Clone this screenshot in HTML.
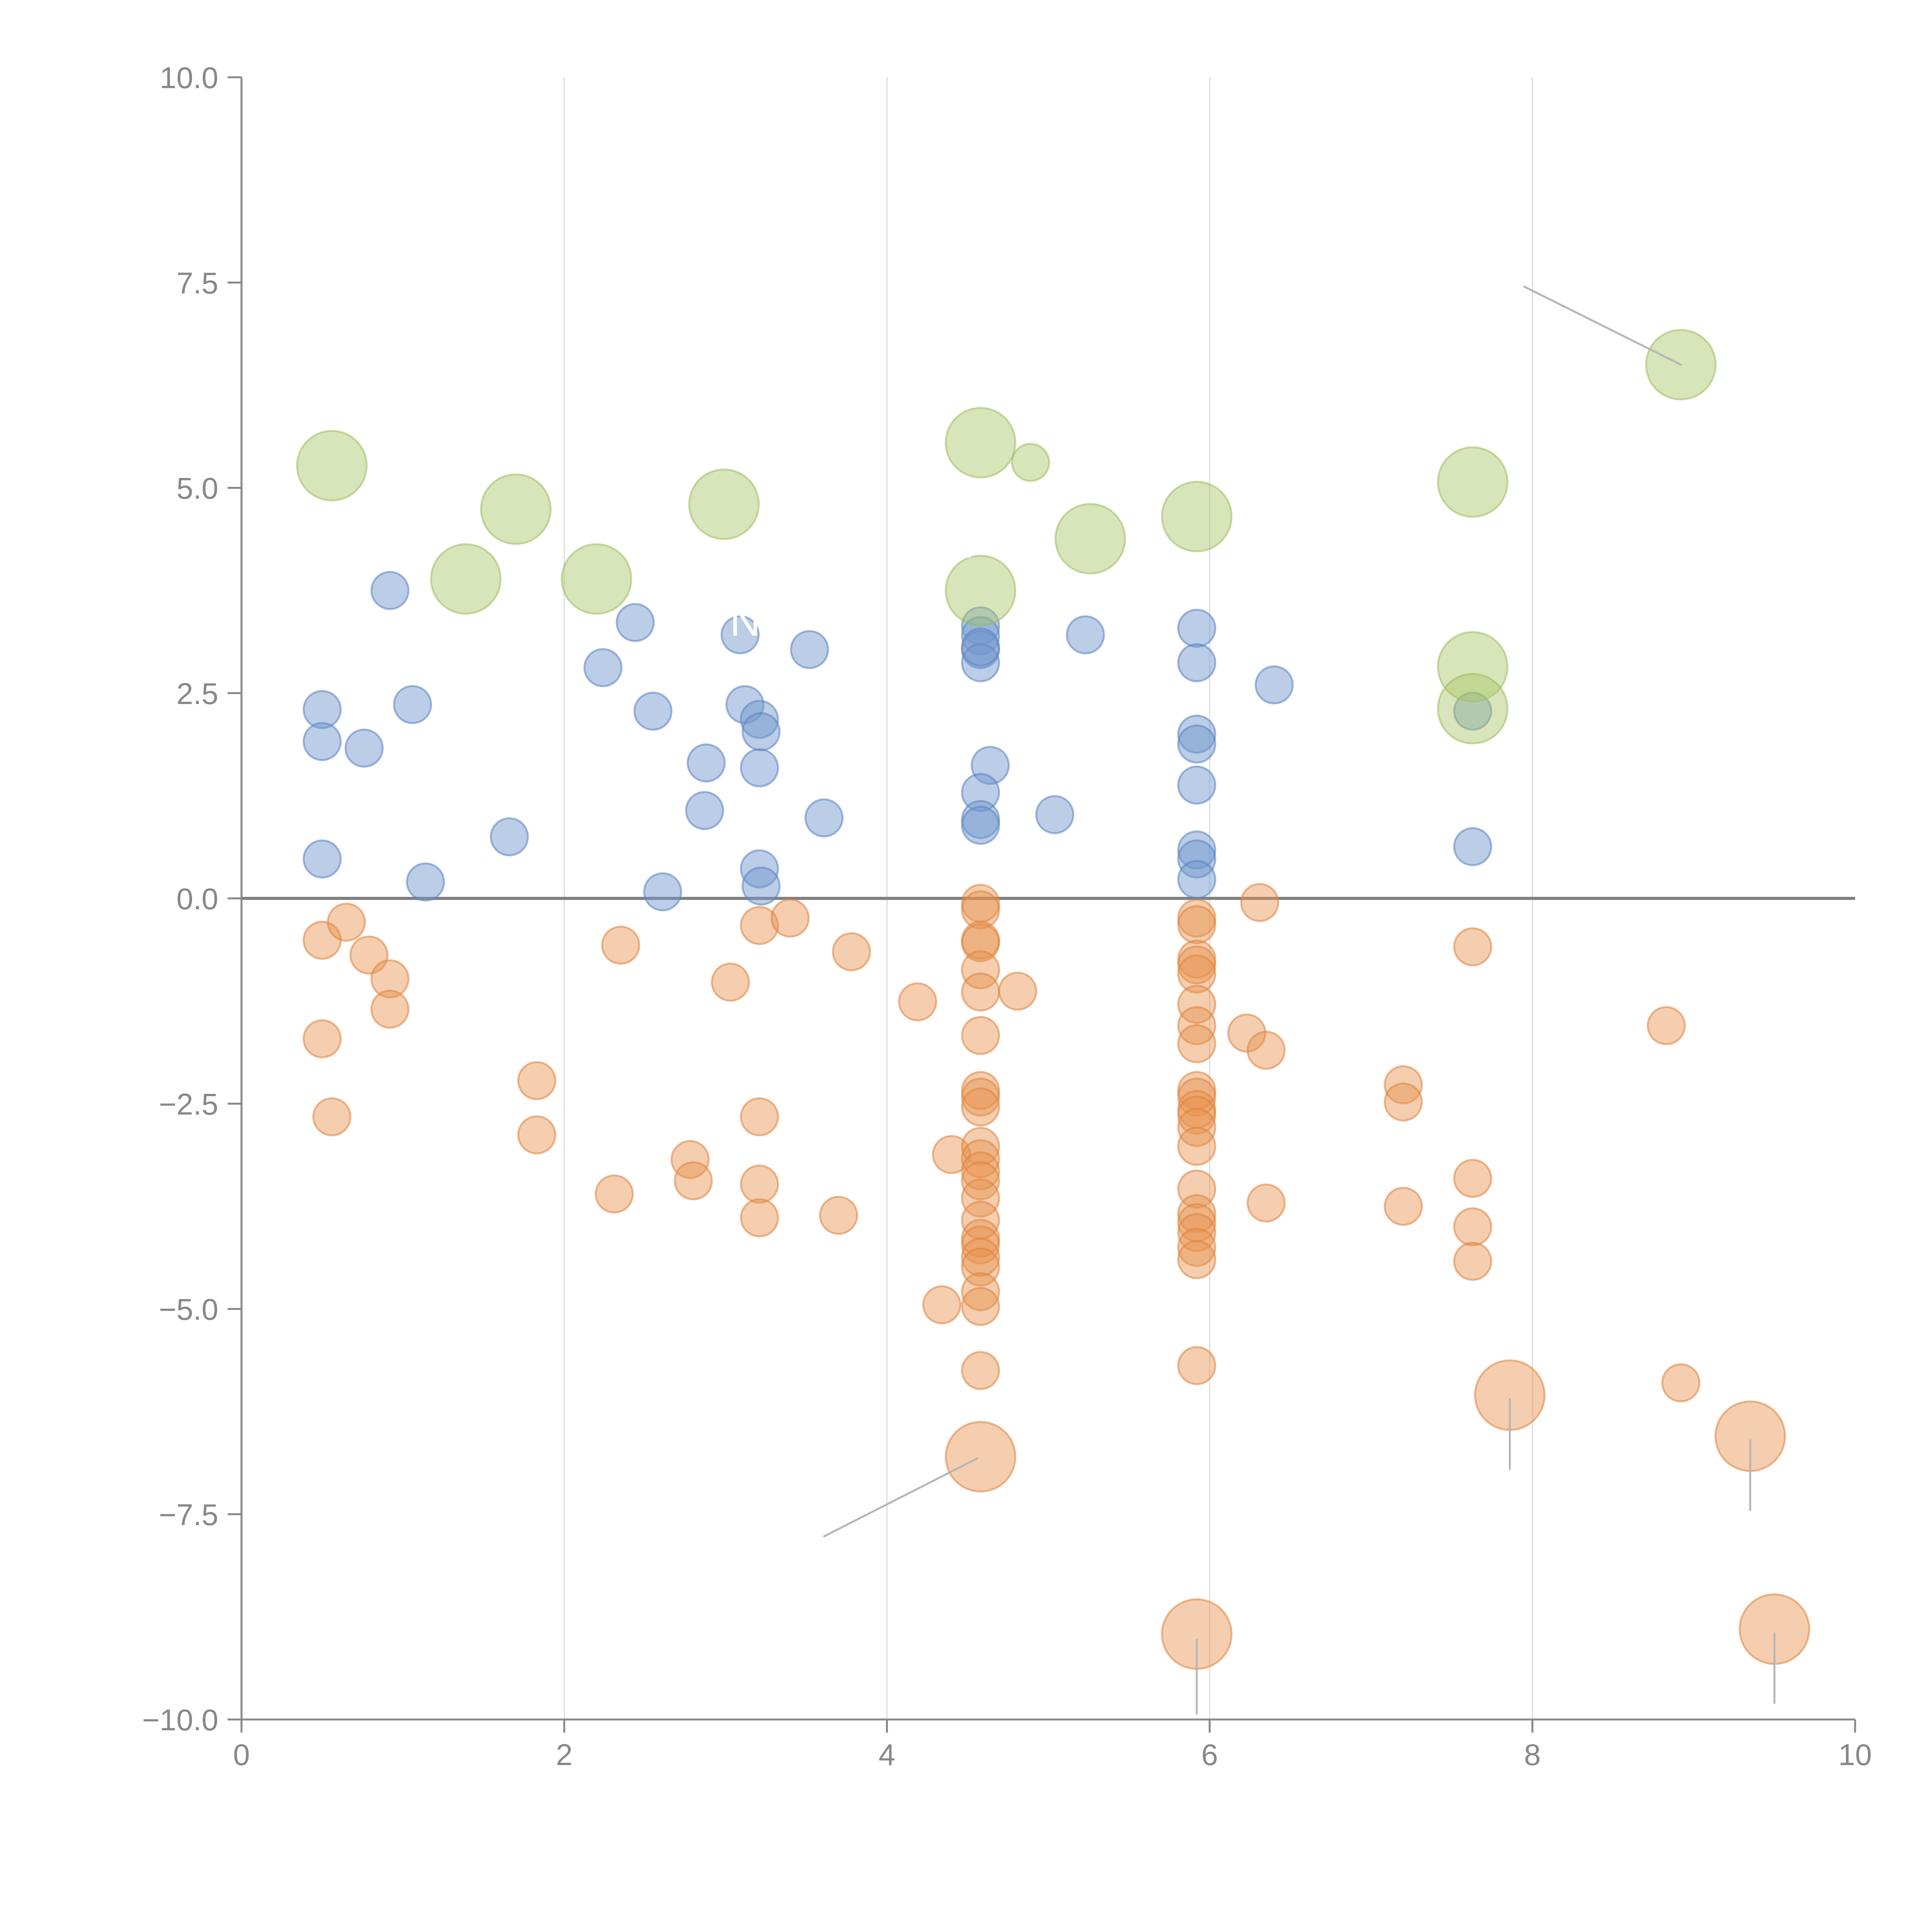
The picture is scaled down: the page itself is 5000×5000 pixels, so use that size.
<!DOCTYPE html>
<html><head><meta charset="utf-8"><style>html,body{margin:0;padding:0;background:#fff}svg{display:block}</style></head>
<body>
<svg id="chart" xmlns="http://www.w3.org/2000/svg" width="5000" height="5000" viewBox="0 0 5000 5000" font-family="'Liberation Sans', sans-serif">
<rect width="5000" height="5000" fill="#fff"/>
<g id="grid"></g>
<g id="axes"></g>
<g id="marks"></g>
<g id="notes"></g>
</svg>
<script>
const xTicks = [0, 2, 4, 6, 8, 10];
const xTickLabels = ["0", "2", "4", "6", "8", "10"];
const yTicks = [10, 7.5, 5, 2.5, 0, -2.5, -5, -7.5, -10];
const yTickLabels = ["10.0", "7.5", "5.0", "2.5", "0.0", "\u22122.5", "\u22125.0", "\u22127.5", "\u221210.0"];

const greenX = [0.56,1.70,1.39,2.20,2.99,4.58,4.89,4.58,5.26,5.92,7.63,7.63,7.63,8.92];
const greenY = [5.27,4.74,3.89,3.89,4.80,5.55,5.31,3.75,4.38,4.65,5.07,2.82,2.31,6.50];
const greenS = [2,2,2,2,2,2,1,2,2,2,2,2,2,2];

const blueX = [0.92,0.50,0.50,0.76,1.06,0.50,1.14,1.66,2.24,2.44,2.55,2.88,2.87,2.61,3.09,3.12,3.21,3.22,3.21,3.21,3.22,3.52,3.61,4.58,4.58,4.58,4.58,4.58,4.64,4.58,4.58,4.58,5.04,5.23,5.92,5.92,5.92,5.92,5.92,5.92,5.92,5.92,6.40,7.63,7.63];
const blueY = [3.75,2.30,1.91,1.83,2.36,0.48,0.20,0.75,2.81,3.36,2.28,1.65,1.07,0.08,3.21,2.36,2.18,2.03,1.59,0.36,0.15,3.03,0.98,3.32,3.20,3.03,2.87,3.06,1.62,1.29,0.96,0.89,1.02,3.21,3.29,2.87,2.00,1.88,1.38,0.59,0.48,0.23,2.60,2.28,0.63];

const orangeX = [0.50,0.65,0.79,0.92,0.92,0.50,0.56,1.83,1.83,2.35,2.31,2.78,2.80,3.03,3.21,3.40,3.21,3.21,3.21,3.70,3.78,4.19,4.40,4.34,4.81,
 4.58,4.58,4.58,4.58,4.58,4.58,4.58,4.58,4.58,4.58,4.58,4.58,4.58,4.58,4.58,4.58,4.58,4.58,4.58,4.58,4.58,4.58,4.58,4.58,
 5.92,5.92,5.92,5.92,5.92,5.92,5.92,5.92,5.92,5.92,5.92,5.92,5.92,5.92,5.92,5.92,5.92,5.92,5.92,5.92,5.92,5.92,
 6.31,6.23,6.35,6.35,7.20,7.20,7.20,7.63,7.63,7.63,7.63,8.83,8.92,7.86,9.35,9.50];
const orangeY = [-0.51,-0.29,-0.69,-0.98,-1.35,-1.71,-2.66,-2.22,-2.88,-0.57,-3.60,-3.18,-3.44,-1.02,-0.33,-0.24,-2.66,-3.48,-3.89,-3.86,-0.65,-1.26,-3.12,-4.95,-1.13,
 -0.06,-0.14,-0.51,-0.54,-0.87,-1.14,-1.67,-2.34,-2.42,-2.54,-3.02,-3.17,-3.32,-3.44,-3.65,-3.92,-4.14,-4.22,-4.37,-4.49,-4.79,-4.97,-5.75,-6.80,
 -0.24,-0.32,-0.74,-0.81,-0.92,-1.29,-1.55,-1.77,-2.34,-2.42,-2.57,-2.64,-2.79,-3.02,-3.54,-3.84,-3.95,-4.07,-4.25,-4.40,-5.69,-8.96,
 -0.05,-1.64,-1.85,-3.71,-2.27,-2.48,-3.75,-0.59,-3.41,-4.00,-4.42,-1.55,-5.90,-6.05,-6.55,-8.90];
const orangeS = orangeX.map((_, i) => 1);
[48, 70, 84, 85, 86].forEach(i => orangeS[i] = 2);

const leaderX1 = [4.56,5.92,7.86,9.35,9.50,8.92];
const leaderY1 = [-6.82,-9.03,-6.10,-6.60,-8.95,6.50];
const leaderX2 = [3.61,5.92,7.86,9.35,9.50,7.95];
const leaderY2 = [-7.77,-9.93,-6.95,-7.45,-9.80,7.45];

const labelText = ["DIG", "N N", "X G"];
const labelX = [1.22, 2.99, 4.58];
const labelY = [4.45, 3.20, 4.15];

const X0 = 625, X1 = 4801, Y0 = 200, Y1 = 4450;
const sx = v => X0 + (v - 0) / 10 * (X1 - X0);
const sy = v => Y0 + (10 - v) / 20 * (Y1 - Y0);
const radius = s => s === 2 ? 90 : (s === 1 ? 48 : 45);
const NS = "http://www.w3.org/2000/svg";
function mk(tag, attrs, parent) {
  const el = document.createElementNS(NS, tag);
  for (const k in attrs) el.setAttribute(k, attrs[k]);
  parent.appendChild(el);
  return el;
}
const grid = document.getElementById('grid');
const axes = document.getElementById('axes');
const marks = document.getElementById('marks');
const notes = document.getElementById('notes');

xTicks.forEach((t, i) => {
  if (t > 0 && t < 10) {
    const g = mk('line', {x1: sx(t), x2: sx(t), y1: Y0, y2: Y1, stroke: '#dcdcdc', 'stroke-width': 3}, grid);
    
    
  }
  const tk = mk('line', {x1: sx(t), x2: sx(t), y1: Y1, y2: Y1 + 34, stroke: '#888', 'stroke-width': 5}, axes);
  
  
  const lb = mk('text', {x: sx(t), y: Y1 + 118, 'text-anchor': 'middle', 'font-size': 78, fill: '#888'}, axes);
  lb.textContent = xTickLabels[i];
  
  
});
yTicks.forEach((t, i) => {
  const tk = mk('line', {x1: X0 - 36, x2: X0, y1: sy(t), y2: sy(t), stroke: '#888', 'stroke-width': 5}, axes);
  
  
  const lb = mk('text', {x: X0 - 60, y: sy(t) + 28, 'text-anchor': 'end', 'font-size': 78, fill: '#888'}, axes);
  lb.textContent = yTickLabels[i];
  
  
});
const ya = mk('line', {x1: X0, x2: X0, y1: Y0, y2: Y1, stroke: '#888', 'stroke-width': 5}, axes);


const xa = mk('line', {x1: X0, x2: X1, y1: Y1, y2: Y1, stroke: '#888', 'stroke-width': 5}, axes);


const zl = mk('line', {x1: X0, x2: X1, y1: sy(0), y2: sy(0), stroke: '#808080', 'stroke-width': 8}, axes);



function series(xs, ys, ss, fill, stroke, name) {
  xs.forEach((x, i) => {
    const c = mk('circle', {cx: sx(x), cy: sy(ys[i]), r: radius(ss ? ss[i] : 1), fill: fill, stroke: stroke, 'stroke-width': 5}, marks);
    
    
  });
}
series(orangeX, orangeY, orangeS, 'rgba(230,146,78,0.45)', 'rgba(224,130,60,0.55)', 'orange-bubble');
series(blueX, blueY, null, 'rgba(112,150,205,0.48)', 'rgba(90,130,195,0.55)', 'blue-bubble');
series(greenX, greenY, greenS, 'rgba(168,198,102,0.45)', 'rgba(150,185,85,0.5)', 'green-bubble');

leaderX1.forEach((x, i) => {
  const l = mk('line', {x1: sx(x), y1: sy(leaderY1[i]), x2: sx(leaderX2[i]), y2: sy(leaderY2[i]), stroke: '#b5b5b5', 'stroke-width': 5, 'stroke-linecap': 'round'}, notes);
  
  
});
labelText.forEach((t, i) => {
  const tx = mk('text', {x: sx(labelX[i]), y: sy(labelY[i]), 'text-anchor': 'middle', 'font-size': 110, fill: '#fff'}, notes);
  tx.textContent = t;
  
  
});
</script>
</body></html>
